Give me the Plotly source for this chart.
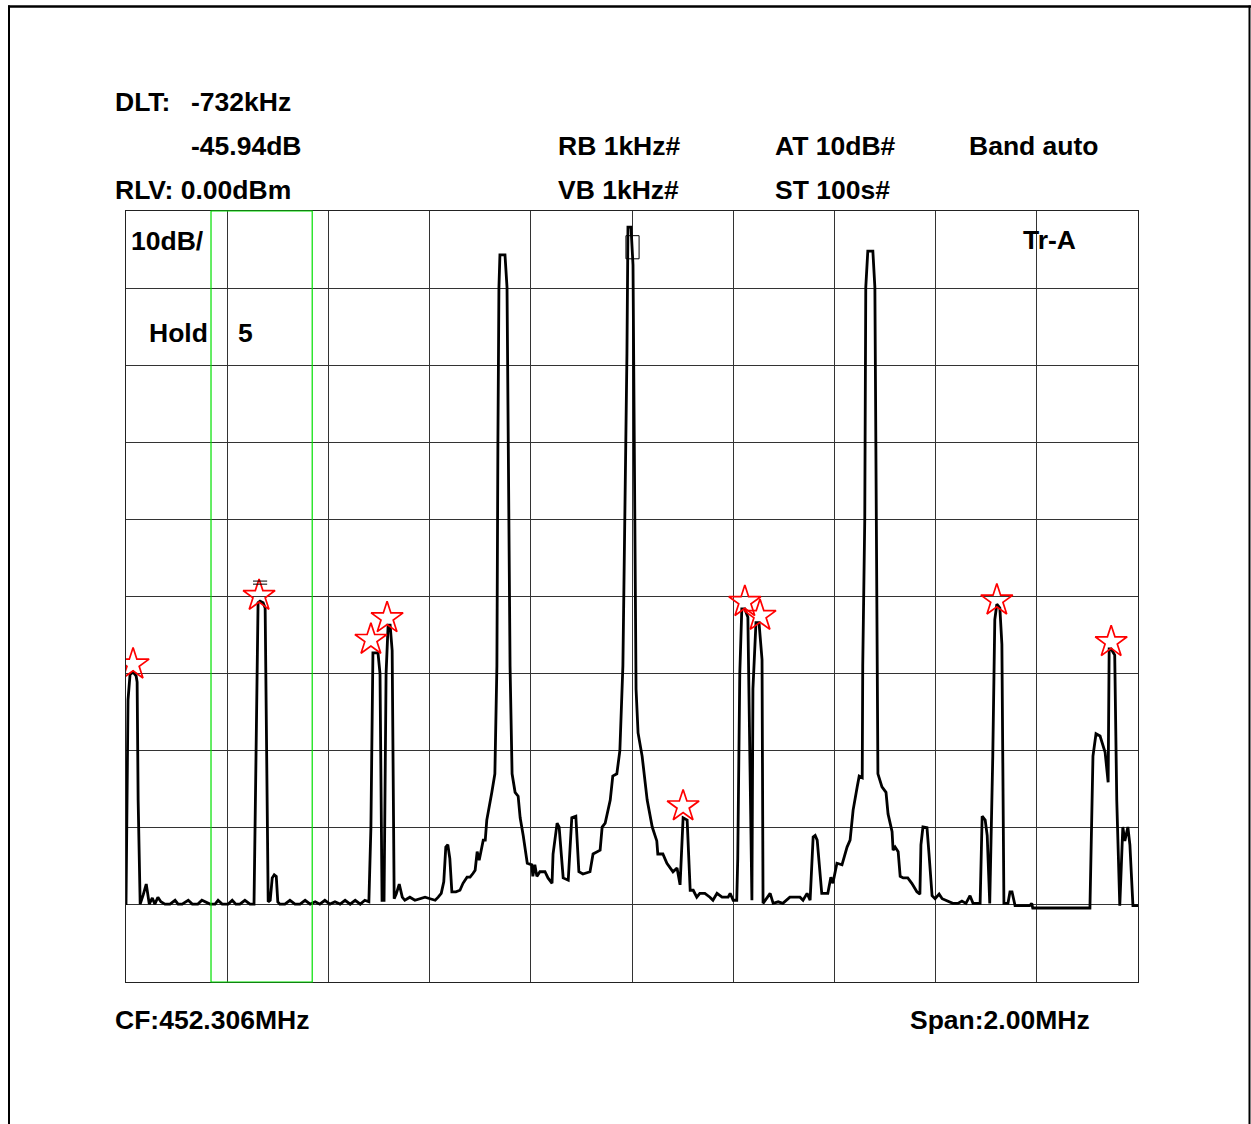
import plotly.graph_objects as go

# ---------------- data ----------------
# frequency offset from CF (kHz), level (dBm)
freq_khz = [
    -1000, -996, -992, -986, -980, -978, -976, -972, -966, -960, -954, -948, -943, -937, -931,
    -923, -913, -903, -897, -889, -877, -869, -858, -850, -834, -824, -818, -810, -798, -790,
    -783, -775, -765, -755, -747, -743, -739, -735, -729, -725, -721, -719, -715, -711, -707,
    -703, -700, -696, -686, -676, -666, -656, -646, -636, -626, -617, -607, -597, -587, -577,
    -567, -557, -547, -537, -528, -520, -516, -512, -502, -498, -494, -490, -486, -482, -478,
    -474, -470, -466, -460, -454, -449, -439, -429, -419, -409, -399, -389, -383, -377, -372,
    -368, -364, -360, -356, -348, -340, -334, -326, -320, -314, -310, -306, -302, -294, -290,
    -287, -281, -277, -271, -267, -265, -263, -261, -251, -247, -245, -241, -237, -231, -225,
    -221, -215, -207, -198, -196, -192, -188, -182, -172, -166, -158, -156, -148, -144, -136,
    -126, -119, -111, -105, -97, -83, -77, -63, -59, -53, -43, -38, -30, -24, -18,
    -14, -10, -8, -2, 2, 4, 8, 12, 20, 30, 40, 49, 51, 61, 69,
    81, 89, 95, 99, 101, 109, 115, 121, 128, 134, 144, 154, 160, 168, 178,
    190, 194, 200, 207, 209, 213, 217, 223, 229, 233, 237, 239, 245, 251, 257,
    259, 267, 273, 279, 289, 298, 312, 332, 338, 346, 352, 358, 362, 366, 375,
    387, 393, 397, 405, 415, 425, 431, 437, 445, 449, 455, 456, 460, 462, 466,
    476, 480, 486, 494, 502, 506, 514, 516, 520, 526, 530, 536, 545, 553, 563,
    569, 571, 575, 583, 587, 593, 599, 607, 613, 622, 634, 644, 652, 660, 668,
    674, 688, 692, 698, 702, 707, 713, 717, 721, 727, 731, 733, 735, 743, 747,
    751, 757, 786, 790, 792, 905, 911, 917, 925, 935, 941, 943, 947, 954, 958,
    964, 970, 974, 980, 984, 990, 1000,
]
level_dbm = [
    -90.0, -63.4, -60.1, -59.8, -60.3, -61.1, -76.4, -89.9, -88.7, -87.3, -89.9, -89.1, -89.9, -89.0, -89.6,
    -89.9, -89.9, -89.4, -89.9, -89.9, -89.4, -89.9, -89.9, -89.4, -89.9, -89.9, -89.4, -89.9, -89.9, -89.4,
    -89.9, -89.9, -89.4, -89.9, -89.9, -70.0, -50.8, -50.6, -50.8, -51.5, -75.0, -89.6, -89.4, -86.5, -86.1,
    -86.3, -89.6, -89.9, -89.9, -89.4, -89.9, -89.9, -89.4, -89.9, -89.6, -89.9, -89.4, -89.9, -89.6, -89.9,
    -89.4, -89.9, -89.4, -89.9, -89.4, -89.6, -80.0, -57.3, -57.3, -60.0, -89.4, -89.4, -60.0, -53.7, -53.7,
    -57.0, -89.2, -88.6, -87.3, -89.0, -89.4, -89.0, -89.4, -89.2, -89.0, -89.2, -89.4, -89.0, -88.5, -87.0,
    -82.5, -82.2, -84.0, -88.3, -88.3, -88.1, -87.2, -86.4, -86.4, -85.9, -85.5, -83.1, -84.2, -81.6, -81.6,
    -79.0, -77.0, -75.4, -73.0, -59.0, -30.0, -10.0, -5.7, -5.7, -9.9, -30.1, -59.0, -73.0, -75.4, -75.9,
    -78.7, -81.0, -84.6, -84.8, -86.3, -84.8, -86.3, -85.7, -85.7, -86.5, -87.2, -83.4, -79.4, -79.9, -86.5,
    -86.8, -78.7, -78.5, -85.7, -86.0, -85.7, -83.4, -82.9, -79.9, -79.4, -76.4, -73.3, -73.0, -70.0, -59.0,
    -41.8, -18.5, -2.1, -2.1, -7.0, -30.1, -62.0, -67.7, -70.7, -76.4, -79.9, -81.7, -83.4, -83.4, -84.6,
    -85.7, -85.2, -87.4, -82.0, -78.7, -79.0, -88.1, -88.1, -89.0, -88.5, -88.5, -89.0, -89.4, -88.5, -89.0,
    -89.0, -88.5, -89.4, -89.4, -84.0, -60.0, -51.6, -51.6, -52.7, -70.0, -89.4, -62.0, -53.4, -53.4, -58.2,
    -89.8, -89.1, -88.5, -89.8, -89.6, -89.8, -89.0, -89.0, -89.4, -88.5, -89.4, -81.2, -81.0, -81.6, -88.5,
    -88.5, -86.4, -87.2, -84.6, -84.8, -82.5, -81.6, -77.7, -74.7, -73.3, -73.5, -59.0, -40.0, -9.9, -5.2,
    -5.2, -9.9, -73.0, -74.7, -75.4, -78.2, -80.5, -82.9, -82.5, -83.1, -86.3, -86.5, -86.5, -87.2, -88.3,
    -88.6, -82.2, -79.9, -80.0, -83.4, -88.8, -89.2, -88.6, -89.2, -89.5, -89.8, -89.8, -89.5, -89.8, -88.8,
    -89.8, -89.8, -78.5, -79.0, -81.0, -89.8, -70.7, -53.0, -51.0, -51.5, -56.2, -70.0, -89.8, -89.8, -88.3,
    -88.3, -90.1, -90.1, -89.8, -90.4, -90.4, -70.7, -67.8, -68.1, -70.2, -74.1, -56.8, -56.8, -57.6, -76.4,
    -90.1, -79.9, -81.7, -79.9, -82.2, -90.1, -90.1,
]

# peak markers (stars)
marker_khz = [-986, -737, -516, -484, 101, 223, 253, 721, 947]
marker_dbm = [-58.8, -49.9, -55.6, -52.8, -77.2, -50.7, -52.5, -50.5, -55.9]

# header / footer texts
txt_dlt = "DLT:"
txt_dlt_f = "-732kHz"
txt_dlt_a = "-45.94dB"
txt_rlv = "RLV: 0.00dBm"
txt_rb = "RB 1kHz#"
txt_vb = "VB 1kHz#"
txt_at = "AT 10dB#"
txt_st = "ST 100s#"
txt_band = "Band auto"
txt_scale = "10dB/"
txt_hold = "Hold"
txt_hold_n = "5"
txt_trace = "Tr-A"
txt_cf = "CF:452.306MHz"
txt_span = "Span:2.00MHz"

# green window and marker box (kHz / dBm)
win_khz = [-832, -632]
box_khz = [-12, 14]
box_dbm = [-6.2, -3.2]
delta_khz = [-749, -721]
delta_dbm = [-48.0, -48.4]

# ---------------- layout helpers ----------------
W, H = 1251, 1124
L, R, T, B = 126, 1138, 211, 982   # plot area in screen pixels


def px(xs):
    return (xs - L) / (R - L)


def py(ys):
    return (B - ys) / (B - T)


fig = go.Figure()
fig.add_trace(go.Scatter(
    x=freq_khz, y=level_dbm, mode="lines",
    line=dict(color="black", width=2.8), hoverinfo="skip", showlegend=False,
))
fig.add_trace(go.Scatter(
    x=marker_khz, y=marker_dbm, mode="markers",
    marker=dict(symbol="star-open", size=24, color="red", line=dict(color="red", width=1.7)),
    hoverinfo="skip", showlegend=False,
))

shapes = []
shapes.append(dict(type="rect", xref="x", yref="paper", x0=win_khz[0], x1=win_khz[1], y0=0, y1=1,
                   line=dict(color="rgb(0,225,0)", width=1.2), layer="above"))
shapes.append(dict(type="rect", xref="x", yref="y", x0=box_khz[0], x1=box_khz[1], y0=box_dbm[0], y1=box_dbm[1],
                   line=dict(color="black", width=1)))
for d in delta_dbm:
    shapes.append(dict(type="line", xref="x", yref="y", x0=delta_khz[0], x1=delta_khz[1], y0=d, y1=d,
                       line=dict(color="black", width=1)))
# outer frame of the page
shapes.append(dict(type="line", xref="paper", yref="paper", x0=px(8), x1=px(1251), y0=py(6.5), y1=py(6.5),
                   line=dict(color="black", width=2.5)))
shapes.append(dict(type="line", xref="paper", yref="paper", x0=px(9), x1=px(9), y0=py(5.5), y1=py(1124),
                   line=dict(color="black", width=2)))
shapes.append(dict(type="line", xref="paper", yref="paper", x0=px(1249.5), x1=px(1249.5), y0=py(5.5), y1=py(1124),
                   line=dict(color="black", width=2)))

FONT = dict(family="Liberation Sans, Arial, sans-serif", size=26.5, color="black", weight="bold")


def ann(text, xl, yc):
    return dict(text=text, xref="paper", yref="paper", x=px(xl), y=py(yc), xanchor="left", yanchor="middle",
                showarrow=False, font=FONT)


annotations = [
    ann(txt_dlt, 113, 102), ann(txt_dlt_f, 189, 102), ann(txt_dlt_a, 189, 146), ann(txt_rlv, 113, 190),
    ann(txt_rb, 556, 146), ann(txt_vb, 556, 190), ann(txt_at, 773, 146), ann(txt_st, 773, 190),
    ann(txt_band, 967, 146), ann(txt_scale, 129, 241), ann(txt_hold, 147, 333), ann(txt_hold_n, 236, 333),
    ann(txt_trace, 1021, 240), ann(txt_cf, 113, 1020), ann(txt_span, 908, 1020),
]

axis_common = dict(showticklabels=False, ticks="", zeroline=False, showline=True, mirror=True,
                   linecolor="#222", linewidth=1, gridcolor="#333", gridwidth=1, showgrid=True)

fig.update_layout(
    width=W, height=H,
    margin=dict(l=L, r=W - R, t=T, b=H - B, pad=0),
    paper_bgcolor="white", plot_bgcolor="white",
    xaxis=dict(range=[-1000, 1000], tick0=-1000, dtick=200, **axis_common),
    yaxis=dict(range=[-100, 0], tick0=-100, dtick=10, **axis_common),
    shapes=shapes, annotations=annotations, showlegend=False,
)

fig.write_html(
    "out.html",
    config={"displayModeBar": False},
    post_script="document.body.style.margin='0';document.body.style.overflow='hidden';",
)
